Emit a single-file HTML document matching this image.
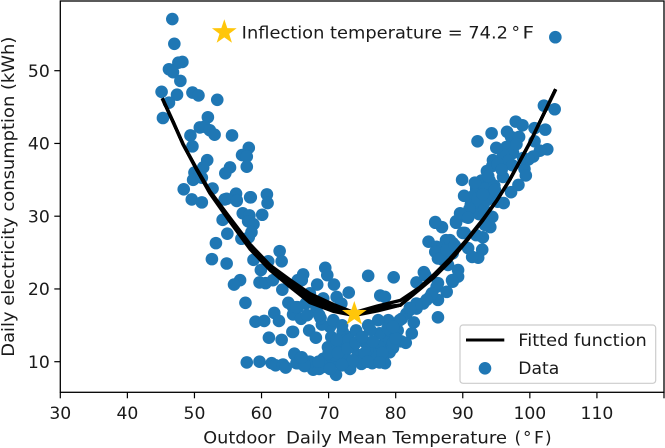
<!DOCTYPE html>
<html lang="en">
<head>
<meta charset="utf-8">
<title>Daily electricity consumption vs temperature</title>
<style>
html,body{margin:0;padding:0;background:#fff;width:665px;height:448px;overflow:hidden}
svg{display:block}
text{font-family:"DejaVu Sans","Liberation Sans",sans-serif;fill:#1a1a1a}
</style>
</head>
<body>
<svg id="chart" xmlns="http://www.w3.org/2000/svg" width="665" height="448" viewBox="0 0 665 448">
<g id="points"></g>
<g id="fits"></g>
<g id="stars"></g>
<g id="annotation">
<text x="241.7" y="38.5" font-size="17" textLength="266.3" lengthAdjust="spacingAndGlyphs">Inflection temperature = 74.2</text>
<text x="511.5" y="38.5" font-size="17">°</text>
<text x="522.5" y="38.5" font-size="17" textLength="11.5" lengthAdjust="spacingAndGlyphs">F</text>
</g>
<g id="frame"></g>
<g id="xticks"></g>
<g id="yticks"></g>
<g>
<text x="203.3" y="443.3" font-size="17" textLength="72" lengthAdjust="spacingAndGlyphs">Outdoor</text>
<text x="286" y="443.3" font-size="17" textLength="221" lengthAdjust="spacingAndGlyphs">Daily Mean Temperature</text>
<text x="514.5" y="443.3" font-size="17">(</text>
<text x="523" y="443.3" font-size="17">°</text>
<text x="534" y="443.3" font-size="17" textLength="10" lengthAdjust="spacingAndGlyphs">F</text>
<text x="545" y="443.3" font-size="17">)</text>
</g>
<text transform="translate(14 356.7) rotate(-90)" font-size="17" textLength="320" lengthAdjust="spacingAndGlyphs">Daily electricity consumption (kWh)</text>
<g>
<rect x="460" y="325" width="195.7" height="58.3" rx="3" fill="#fff" fill-opacity="0.8" stroke="#ccc" stroke-width="1.2"></rect>
<line x1="466" y1="340" x2="504.3" y2="340" stroke="#000" stroke-width="3"></line>
<text x="518.3" y="346" font-size="17" textLength="128.5" lengthAdjust="spacingAndGlyphs">Fitted function</text>
<circle cx="485" cy="368.3" r="6.3" fill="#1f77b4"></circle>
<text x="518.3" y="374" font-size="17" textLength="41" lengthAdjust="spacingAndGlyphs">Data</text>
</g>
</svg>
<script>
const tempF = [46.7,47.0,48.2,47.6,46.2,46.8,47.9,45.1,47.4,49.7,50.6,53.4,46.2,45.3,52.0,50.8,51.5,52.3,53.0,49.4,49.7,55.6,58.1,57.1,57.8,57.8,55.3,54.6,51.9,51.3,50.0,49.8,51.1,48.4,52.7,49.6,51.1,54.5,56.2,58.3,60.8,56.3,54.8,56.3,58.4,60.9,54.2,57.2,58.2,58.0,58.8,60.1,58.5,54.9,57.0,58.1,53.2,52.6,54.8,62.7,63.0,61.0,58.8,59.9,56.8,55.9,59.7,60.6,61.7,63.1,65.4,57.6,64.0,64.7,65.4,61.9,64.7,59.1,60.4,61.1,63.0,64.6,57.8,59.7,61.5,62.1,63.2,64.9,65.2,85.9,86.9,89.0,84.9,84.2,83.1,86.3,75.9,79.7,69.5,66.2,66.0,69.8,68.3,70.8,73.0,77.7,78.4,103.8,102.1,103.7,97.9,98.9,94.3,92.2,100.7,102.3,97.2,98.4,96.5,100.7,102.6,101.5,100.5,97.5,94.5,94.4,99.2,99.4,96.0,89.9,98.3,97.2,96.1,92.8,94.0,92.0,93.3,94.7,91.5,93.0,94.0,91.2,92.5,90.5,92.4,94.3,85.9,89.0,87.5,88.5,86.1,87.3,88.5,86.3,87.8,89.3,88.5,86.1,87.6,86.3,85.1,84.1,83.1,82.1,81.6,82.7,82.4,81.5,80.9,80.1,80.3,78.9,77.4,75.9,79.1,78.4,79.1,78.4,76.5,77.1,77.6,76.1,74.9,73.2,71.1,69.2,67.7,67.2,65.4,64.9,69.2,70.7,69.9,71.4,70.4,72.9,70.2,69.0,67.1,68.1,64.7,65.9,65.2,68.2,67.2,69.2,71.2,71.9,73.4,74.4,72.4,75.4,70.4,72.1,74.1,77.6,96.0,96.8,97.4,95.2,95.8,93.6,91.0,90.2,89.6,91.8,93.2,87.0,95.0,96.6,98.0,99.8,99.0,66.8,68.8,70.0,71.6,72.6,73.8,75.0,76.2,76.8,78.0,79.6,80.8,72.0,73.0,74.6,75.8,71.0,68.6,66.4,63.6,62.6,65.8,93.8,94.8,93.6,92.2,91.8,95.2,93.0,90.0,90.8,94.4,94.1,93.0,92.9,92.3,91.4,90.8,92.0,93.3,88.1,85.9,86.6,87.6,88.8,90.3,84.4,89.3,88.4,86.3,85.4,84.6,83.1,82.1,70.7,72.0,73.0,71.2,70.0,71.4,72.8,74.0,75.4,76.6,78.0,79.6,78.8,80.0,75.0,73.6,72.0,70.2,68.5,66.4,75.8,77.6,80.6,79.6,66.0,68.6,66.6];
const kWh = [57.1,53.7,51.2,51.1,50.2,49.8,48.6,47.1,46.7,47.0,46.6,46.0,45.6,43.5,43.6,42.2,42.3,41.8,41.2,41.1,39.6,41.1,39.4,38.4,38.2,36.8,36.7,35.9,37.7,36.7,36.0,35.0,35.3,33.7,33.8,32.3,31.9,32.3,33.1,32.6,33.0,32.2,32.4,32.1,32.6,31.8,29.5,30.4,30.1,29.3,28.9,30.2,27.8,27.6,26.9,27.1,26.3,24.1,23.5,25.2,23.8,23.8,24.0,22.6,21.2,20.6,20.9,20.8,21.2,19.9,21.2,18.1,18.1,17.5,17.5,16.7,16.5,15.5,15.6,13.3,13.0,14.1,9.9,10.0,9.8,9.5,9.6,11.0,9.8,29.1,28.5,29.1,26.5,22.3,20.9,16.1,21.8,21.6,22.9,22.0,21.2,21.9,20.6,20.6,19.5,19.1,18.9,54.6,45.2,44.7,43.0,42.5,41.4,40.3,42.1,41.9,40.9,40.9,39.5,40.3,39.2,39.0,38.2,38.7,37.7,36.9,36.5,35.6,35.4,35.0,34.3,33.3,31.8,34.9,34.9,33.8,33.8,34.2,32.7,32.7,32.9,31.6,31.6,29.9,30.3,29.9,29.2,29.3,26.7,26.3,25.8,25.1,24.9,24.2,23.3,22.6,21.0,20.3,19.6,18.5,18.9,18.0,17.3,17.1,16.6,15.4,13.9,12.6,15.9,15.2,14.3,15.7,15.7,15.0,13.9,12.7,11.3,9.8,9.8,10.9,12.0,12.0,9.7,9.0,8.2,9.3,8.9,10.0,9.8,11.1,10.4,9.8,12.0,12.0,13.4,13.4,14.8,15.1,14.3,13.3,14.1,15.9,17.5,17.3,19.4,18.7,18.9,18.0,12.0,10.9,10.7,12.7,10.7,14.1,14.3,13.9,38.5,37.6,37.0,37.2,36.4,36.2,31.0,32.8,30.4,33.0,30.9,24.0,39.4,41.6,39.9,37.8,38.0,16.4,16.0,11.0,11.3,13.0,12.3,13.2,14.4,11.0,10.4,11.9,12.8,9.5,9.6,10.0,11.6,10.9,9.0,9.4,9.2,15.6,10.5,35.5,33.6,32.2,32.4,34.6,32.0,33.0,27.7,29.8,29.9,28.5,27.1,25.4,24.3,24.4,25.6,27.4,28.8,26.7,25.1,24.2,25.3,26.0,27.7,21.9,21.7,21.2,20.8,19.4,18.5,18.0,17.4,15.7,15.0,13.0,13.0,11.2,11.2,11.8,12.6,11.2,12.8,11.2,12.6,14.6,13.2,13.4,10.2,9.6,9.0,10.0,9.6,10.0,9.9,15.7,14.8,10.6,16.4,18.0];
const fitTemps = [45.2,46.8,48.3,50.3,52.3,55.3,58.3,61.3,64.2,67.2,70.7,73.8,77.2,80.7,83.6,85.6,88.1,90.6,93.0,95.1,97.0,100.0,103.85];
const fitKwhOuterUpper = [46.2,43.0,39.9,36.57,33.46,29.77,26.14,23.24,21.28,19.37,17.88,16.75,17.64,18.43,20.24,21.9,24.2,26.81,29.57,32.23,35.0,40.1,47.45];
const fitKwhInnerUpper = [46.2,43.0,39.9,36.53,33.38,29.63,25.97,23.07,21.04,19.06,17.64,16.65,17.47,17.77,20.17,21.8,24.1,26.75,29.53,32.21,35.0,40.1,47.45];
const fitKwhMiddle = [46.2,43.0,39.9,36.5,33.3,29.5,25.8,22.9,20.8,18.75,17.4,16.55,17.3,17.77,20.1,21.7,24.0,26.7,29.5,32.2,35.0,40.1,47.45];
const fitKwhInnerLower = [46.2,43.0,39.9,36.47,33.22,29.37,25.63,22.73,20.56,18.44,17.16,16.45,17.13,17.77,20.03,21.6,23.9,26.65,29.47,32.19,35.0,40.1,47.45];
const fitKwhOuterLower = [46.2,43.0,39.9,36.43,33.14,29.23,25.46,22.56,20.32,18.13,16.92,16.35,16.96,17.77,19.96,21.5,23.8,26.59,29.43,32.17,35.0,40.1,47.45];
const starTemps = [54.45,73.83];
const starKwh = [55.28,16.56];
const xTickLabels = [30,40,50,60,70,80,90,100,110,120];
const yTickLabels = [10,20,30,40,50];

const NS = "http://www.w3.org/2000/svg";
const plot = {left:60.3,right:664,top:1,bottom:392.3,xMin:30,xMax:120,y10:361.7,yPerUnit:7.275};
function xScale(v){return plot.left+(v-plot.xMin)*(plot.right-plot.left)/(plot.xMax-plot.xMin);}
function yScale(v){return plot.y10-(v-10)*plot.yPerUnit;}

const pointsG = document.getElementById('points');
tempF.forEach(function(t,i){
  const c = document.createElementNS(NS,'circle');
  c.setAttribute('cx',xScale(t));
  c.setAttribute('cy',yScale(kWh[i]));
  c.setAttribute('r',6.3);
  c.setAttribute('fill','#1f77b4');
  
  
  pointsG.appendChild(c);
});

const fitsG = document.getElementById('fits');
[fitKwhOuterLower,fitKwhInnerLower,fitKwhMiddle,fitKwhInnerUpper,fitKwhOuterUpper].forEach(function(series){
  const p = document.createElementNS(NS,'polyline');
  p.setAttribute('points',series.map(function(v,i){return xScale(fitTemps[i])+','+yScale(v);}).join(' '));
  p.setAttribute('fill','none');
  p.setAttribute('stroke','#000');
  p.setAttribute('stroke-width','3.3');
  p.setAttribute('stroke-linejoin','round');
  
  
  fitsG.appendChild(p);
});

const starsG = document.getElementById('stars');
starTemps.forEach(function(t,i){
  const cx = xScale(t), cy = yScale(starKwh[i]), pts = [];
  for(let k=0;k<10;k++){
    const r = k%2===0 ? 13 : 5.1;
    const a = -Math.PI/2+k*Math.PI/5;
    pts.push((cx+r*Math.cos(a))+','+(cy+r*Math.sin(a)));
  }
  const s = document.createElementNS(NS,'polygon');
  s.setAttribute('points',pts.join(' '));
  s.setAttribute('fill','#ffc60a');
  
  
  starsG.appendChild(s);
});

const frameG = document.getElementById('frame');
const frame = document.createElementNS(NS,'rect');
frame.setAttribute('x',plot.left);
frame.setAttribute('y',plot.top);
frame.setAttribute('width',plot.right-plot.left);
frame.setAttribute('height',plot.bottom-plot.top);
frame.setAttribute('fill','none');
frame.setAttribute('stroke','#000');
frame.setAttribute('stroke-width','1.3');


frameG.appendChild(frame);

const xTicksG = document.getElementById('xticks');
xTickLabels.forEach(function(v){
  const x = xScale(v);
  const l = document.createElementNS(NS,'line');
  l.setAttribute('x1',x);
  l.setAttribute('x2',x);
  l.setAttribute('y1',plot.bottom);
  l.setAttribute('y2',plot.bottom+6);
  l.setAttribute('stroke','#000');
  l.setAttribute('stroke-width','1.2');
  
  
  xTicksG.appendChild(l);
  if(v<120){
    const t = document.createElementNS(NS,'text');
    t.setAttribute('x',x);
    t.setAttribute('y',419);
    t.setAttribute('font-size','17.2');
    t.setAttribute('text-anchor','middle');
    t.textContent = v;
    
    
    xTicksG.appendChild(t);
  }
});

const yTicksG = document.getElementById('yticks');
yTickLabels.forEach(function(v){
  const y = yScale(v);
  const l = document.createElementNS(NS,'line');
  l.setAttribute('x1',plot.left-6);
  l.setAttribute('x2',plot.left);
  l.setAttribute('y1',y);
  l.setAttribute('y2',y);
  l.setAttribute('stroke','#000');
  l.setAttribute('stroke-width','1.2');
  
  
  yTicksG.appendChild(l);
  const t = document.createElementNS(NS,'text');
  t.setAttribute('x',plot.left-10.5);
  t.setAttribute('y',y+6.2);
  t.setAttribute('font-size','17.2');
  t.setAttribute('text-anchor','end');
  t.textContent = v;
  
  
  yTicksG.appendChild(t);
});
</script>
</body>
</html>
